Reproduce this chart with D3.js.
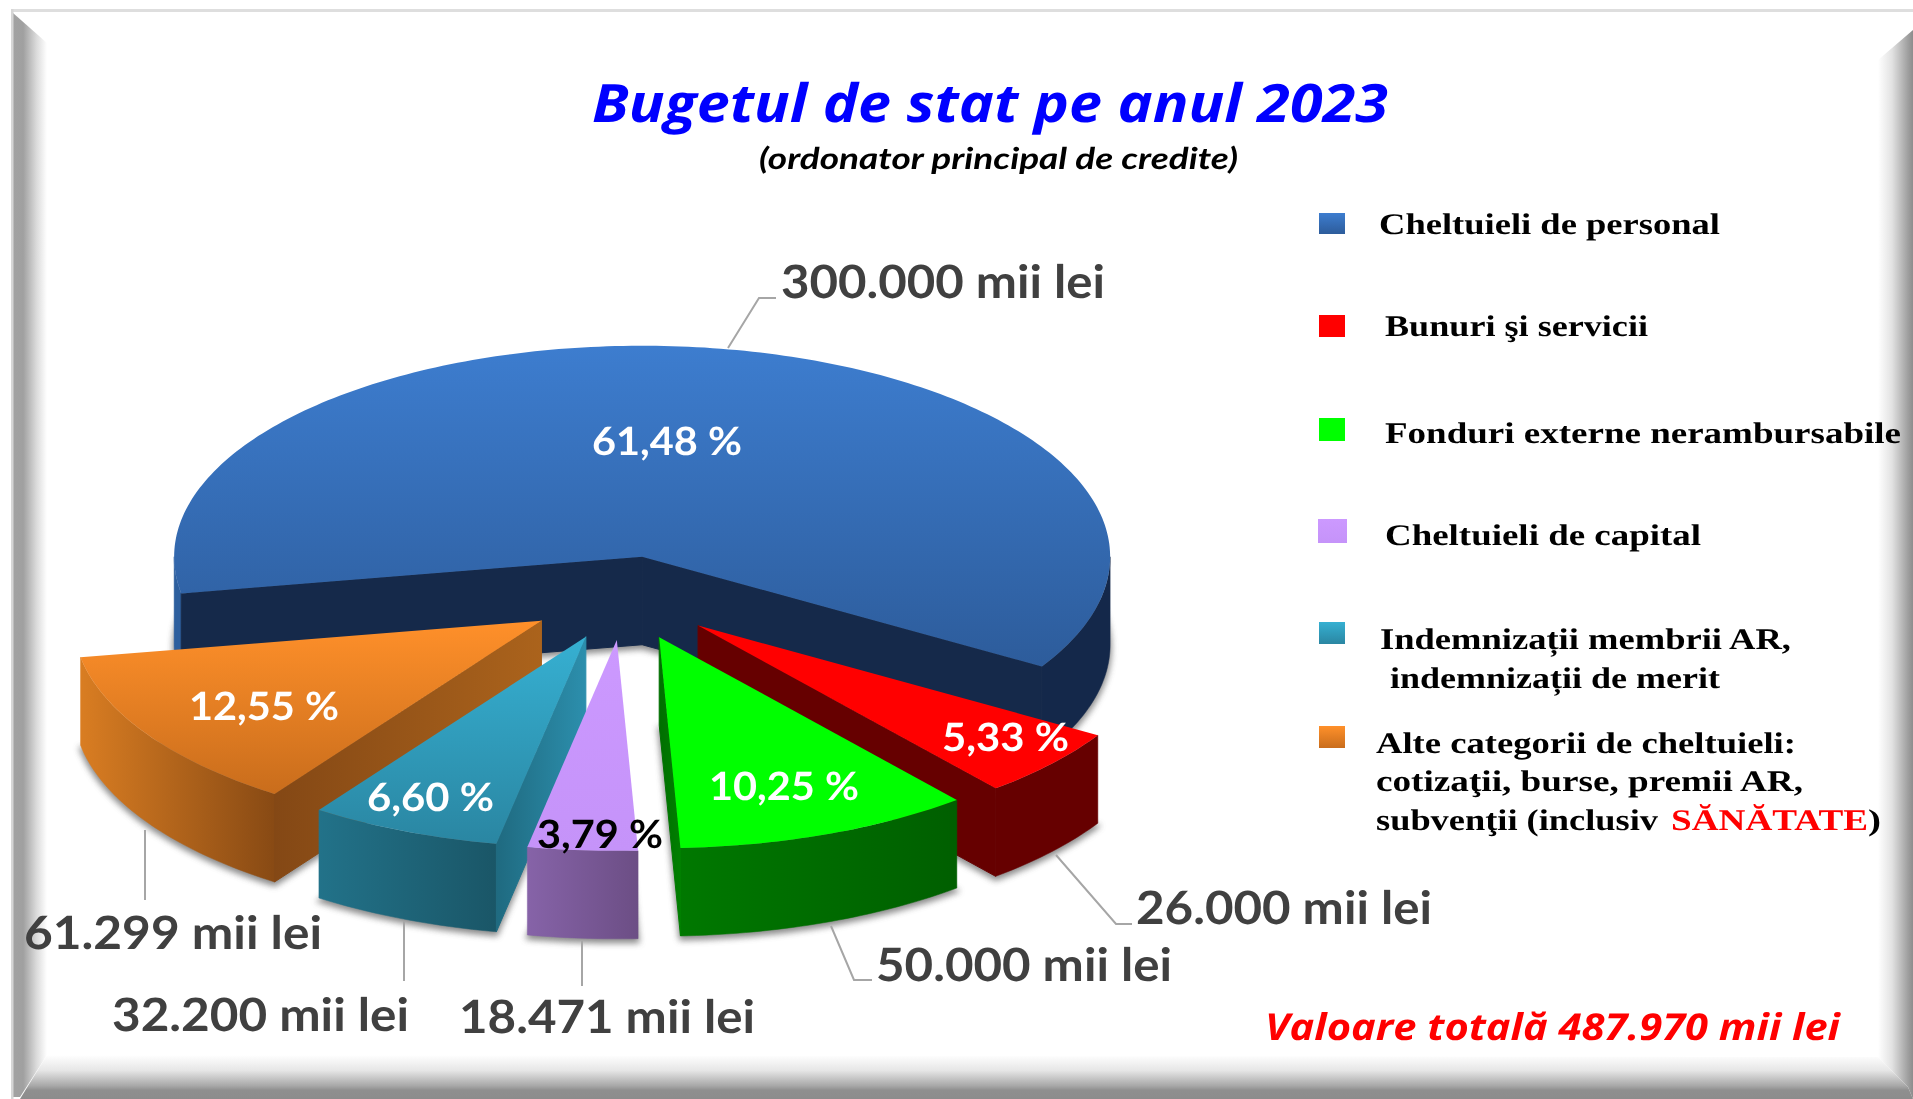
<!DOCTYPE html>
<html lang="ro">
<head>
<meta charset="utf-8">
<title>Bugetul de stat pe anul 2023</title>
<script src="https://cdn.jsdelivr.net/npm/d3@7/dist/d3.min.js"></script>
<style>
html,body{margin:0;padding:0;background:#fff;overflow:hidden}
svg{display:block;filter:blur(0.55px)}
text{text-rendering:geometricPrecision}
</style>
</head>
<body>
<div id="chart"></div>
<script>
// ---------- data ----------
const categories = ["Cheltuieli de personal","Bunuri şi servicii","Fonduri externe nerambursabile","Cheltuieli de capital","Indemnizații membrii AR, indemnizații de merit","Alte categorii de cheltuieli"];
const values = [300000, 26000, 50000, 18471, 32200, 61299];
const percentLabels = ["61,48 %","5,33 %","10,25 %","3,79 %","6,60 %","12,55 %"];
const titleText = "Bugetul de stat pe anul 2023";
const subtitleText = "(ordonator principal de credite)";

// ---------- styles ----------
const topColors  = [["#3d7dcf","#2d5c9b"],["#ff0000","#ff0000"],["#00ff00","#00ff00"],["#cc99ff","#c593f9"],["#36b0d2","#2a86a2"],["#ff902a","#c96d1c"]];
const wallColors = [["#2d5f9e","#14284a"],["#660000","#660000"],["#007800","#005f00"],["#8663a8","#6c4e85"],["#227289","#1a5667"],["#d97d22","#884a14"]];
const sideColors = [["#15294a","#15294a"],["#660000","#660000"],["#006f00","#007f00"],["#8663a8","#8663a8"],["#1f6a80","#2c8fad"],["#844815","#ab631c"]];
const percentColors = ["#fff","#fff","#fff","#000","#fff","#fff"];
const percentBoxes = [[592,742,455],[942,1069,751],[709,859,800],[537,663,848],[367,494,811],[189,339,720]];
const valueBoxes = [[781,1105,298],[1136,1432,924],[876,1172,981],[459,755,1033],[112,409,1031],[24,322,949]];
const leaders = [
  [[728,348],[759,298],[776,298]],
  [[1056,855],[1116,924],[1132,924]],
  [[831,926],[854,980],[872,980]],
  [[582,941],[582,986]],
  [[404,921],[404,981]],
  [[145,830],[145,900]]
];
const swatchRows = [[1319,213,234,26],[1319,315,337,26],[1319,418,441,26],[1318,519,543,29],[1319,622,644,26],[1319,726,748,26]];
const legendLines = [
  {t:"Cheltuieli de personal",x0:1379,x1:1720,y:234},
  {t:"Bunuri şi servicii",x0:1385,x1:1648,y:336},
  {t:"Fonduri externe nerambursabile",x0:1385,x1:1901,y:443},
  {t:"Cheltuieli de capital",x0:1385,x1:1701,y:545},
  {t:"Indemnizații membrii AR,",x0:1380,x1:1791,y:649},
  {t:"indemnizații de merit",x0:1390,x1:1720,y:688},
  {t:"Alte categorii de cheltuieli:",x0:1376,x1:1796,y:753},
  {t:"cotizaţii, burse, premii AR,",x0:1376,x1:1803,y:791},
  {t:"subvenţii (inclusiv",x0:1376,x1:1658,y:830},
  {t:"SĂNĂTATE",x0:1671,x1:1868,y:830,c:"#ff0000"},
  {t:")",x0:1868,x1:1881,y:830}
];

// ---------- geometry ----------
const W = 1913, H = 1099;
const cx = 624, cy = 598, rx = 468, ry = 211, depth = 88, explodeX = 0.2094, explodeY = 0.199;
const rad = d => d * Math.PI / 180;

const svg = d3.select("#chart").append("svg").attr("width", W).attr("height", H).attr("viewBox", [0,0,W,H]);
const defs = svg.append("defs");

function grad(id, c0, c1, dir, extra){
  const g = defs.append("linearGradient").attr("id", id);
  if (dir === "v") g.attr("x1",0).attr("y1",0).attr("x2",0).attr("y2",1);
  else if (dir === "h") g.attr("x1",0).attr("y1",0).attr("x2",1).attr("y2",0);
  else { g.attr("gradientUnits","userSpaceOnUse"); Object.entries(dir).forEach(([k,v])=>g.attr(k,v)); }
  (extra || [[0,c0],[1,c1]]).forEach(([o,c]) => g.append("stop").attr("offset",o).attr("stop-color",c));
  return `url(#${id})`;
}
defs.append("filter").attr("id","soft").attr("x","-10%").attr("y","-10%").attr("width","120%").attr("height","125%")
  .append("feGaussianBlur").attr("stdDeviation",3);

// ---------- bevel frame ----------
const frame = svg.append("g");
const bevel = [
  {p:[[13,13],[47,43],[47,1055],[20,1097],[13,1097]], f:grad("bl",0,0,"h",[[0,"#a2a2a2"],[.3,"#a0a0a0"],[.7,"#dcdcdc"],[1,"#ffffff"]])},
  {p:[[1913,30],[1878,60],[1878,1057],[1908,1087],[1913,1099]], f:grad("br",0,0,"h",[[0,"#ffffff"],[.4,"#e2e2e2"],[.85,"#a0a0a0"],[1,"#8c8c8c"]])},
  {p:[[47,1055],[1878,1057],[1908,1087],[1913,1099],[20,1099]], f:grad("bb",0,0,"v",[[0,"#ffffff"],[.35,"#e6e6e6"],[.7,"#a8a8a8"],[.8,"#8f8f8f"],[1,"#8c8c8c"]])}
];
frame.selectAll("polygon").data(bevel).join("polygon").attr("points",d=>d.p.join(" ")).attr("fill",d=>d.f);
frame.append("rect").attr("x",11).attr("y",9).attr("width",W-11).attr("height",3).attr("fill","#dedede");
frame.append("rect").attr("x",11).attr("y",9).attr("width",2.5).attr("height",H-9).attr("fill","#d6d6d6");

// ---------- pie ----------
const pie = d3.pie().sort(null).startAngle(rad(260)).endAngle(rad(620));
const arcs = pie(values);
const line = d3.line();
const chart = svg.append("g");

function rim(a){ return [rx*Math.sin(a), -ry*Math.cos(a)]; }
function samples(a0,a1){ const n = Math.max(2, Math.ceil((a1-a0)/rad(1))); return d3.range(n+1).map(i => a0 + (a1-a0)*i/n); }
function faceVisible(a, sign){
  const v = rim(a), t = [sign*rx*Math.cos(a), sign*ry*Math.sin(a)];
  let n = [-v[1], v[0]];
  if (n[0]*t[0]+n[1]*t[1] < 0) n = [-n[0],-n[1]];
  return n[1] > 0;
}
function frontRanges(a0,a1){
  const out = [];
  for (let k=-1;k<3;k++){
    const s = Math.max(a0, rad(90+360*k)), e = Math.min(a1, rad(270+360*k));
    if (e > s) out.push([s,e]);
  }
  return out;
}

const drawOrder = [0,1,5,2,4,3];
const offsets = arcs.map(d => { const m=(d.startAngle+d.endAngle)/2; return [cx+explodeX*rx*Math.sin(m), cy-explodeY*ry*Math.cos(m)]; });

drawOrder.forEach(i => {
  const d = arcs[i], [ox,oy] = offsets[i];
  const g = chart.append("g").attr("transform",`translate(${ox},${oy})`);
  const topPts = [[0,0], ...samples(d.startAngle,d.endAngle).map(rim)];

  // soft shadow on the page, cast by the bottom face
  g.append("path").attr("d", line(topPts)+"Z").attr("transform",`translate(0,${depth+3})`)
    .attr("fill","#5a5a5a").attr("stroke","#5a5a5a").attr("stroke-width",3).attr("filter","url(#soft)").attr("opacity",.7);

  // outer wall
  const xs = samples(d.startAngle,d.endAngle).map(a=>rim(a)[0]);
  const xMin = d3.min(xs), xMax = d3.max(xs);
  const wallStops = i===0 ? [[0,wallColors[0][0]],[.012,wallColors[0][0]],[.014,wallColors[0][1]],[1,wallColors[0][1]]] : null;
  const wf = grad(`wall${i}`, wallColors[i][0], wallColors[i][1], {x1:xMin,y1:0,x2:xMax,y2:0}, wallStops);
  frontRanges(d.startAngle,d.endAngle).forEach(([s,e]) => {
    const pts = samples(s,e).map(rim);
    const poly = pts.concat(pts.slice().reverse().map(p=>[p[0],p[1]+depth]));
    g.append("path").attr("d",line(poly)+"Z").attr("fill",wf).attr("stroke",wf).attr("stroke-width",.5);
  });

  // radial cut faces
  [[d.startAngle,-1],[d.endAngle,1]].forEach(([a,sign],k) => {
    if (!faceVisible(a,sign)) return;
    const c = rim(a);
    const f = grad(`side${i}_${k}`, sideColors[i][0], sideColors[i][1], {x1:Math.min(c[0],0),y1:0,x2:Math.max(c[0],0)+.01,y2:0});
    g.append("path").attr("d",line([[0,0],c,[c[0],c[1]+depth],[0,depth]])+"Z").attr("fill",f).attr("stroke",f).attr("stroke-width",1);
  });

  // top face
  const tf = grad(`top${i}`, topColors[i][0], topColors[i][1], "v");
  g.append("path").attr("d",line(topPts)+"Z").attr("fill",tf);
});

// ---------- helper for width-fitted text ----------
function fitted(sel, t, x0, x1, y, size, family, weight, style, fill){
  return sel.append("text").text(t).attr("x",x0).attr("y",y)
    .attr("textLength",x1-x0).attr("lengthAdjust","spacingAndGlyphs")
    .attr("font-family",family).attr("font-size",size).attr("font-weight",weight)
    .attr("font-style",style).attr("fill",fill);
}
const calibri = "Lato, 'Open Sans', sans-serif";
const ro = d3.formatLocale({decimal:",",thousands:".",grouping:[3],currency:["",""]});
const fmt = ro.format(",d");

// ---------- leader lines ----------
chart.selectAll("path.leader").data(leaders).join("path").attr("class","leader")
  .attr("d",d=>line(d)).attr("fill","none").attr("stroke","#a6a6a6").attr("stroke-width",2);

// ---------- labels ----------
arcs.forEach((d,i) => {
  const [a,b,y] = valueBoxes[i];
  fitted(svg, `${fmt(values[i])} mii lei`, a, b, y, 46, calibri, 700, "normal", "#404040");
  const [p,q,yy] = percentBoxes[i];
  fitted(svg, percentLabels[i], p, q, yy, 39, calibri, 700, "normal", percentColors[i]);
});

// ---------- titles ----------
fitted(svg, titleText, 592, 1388, 122, 53, "'Open Sans', sans-serif", 700, "italic", "#0000ff");
fitted(svg, subtitleText, 759, 1238, 169, 30, "Lato, 'Open Sans', sans-serif", 700, "italic", "#000000");
fitted(svg, `Valoare totală ${fmt(d3.sum(values))} mii lei`, 1265, 1840, 1040, 37, "'Open Sans', sans-serif", 700, "italic", "#ff0000");

// ---------- legend ----------
const legend = svg.append("g");
swatchRows.forEach(([x,y0,y1,w],i) => {
  legend.append("rect").attr("x",x).attr("y",y0).attr("width",w).attr("height",y1-y0)
    .attr("fill",`url(#top${i})`);
});
legendLines.forEach(l => fitted(legend, l.t, l.x0, l.x1, l.y, 30, "'Liberation Serif', serif", 700, "normal", l.c || "#000"));
</script>
</body>
</html>
